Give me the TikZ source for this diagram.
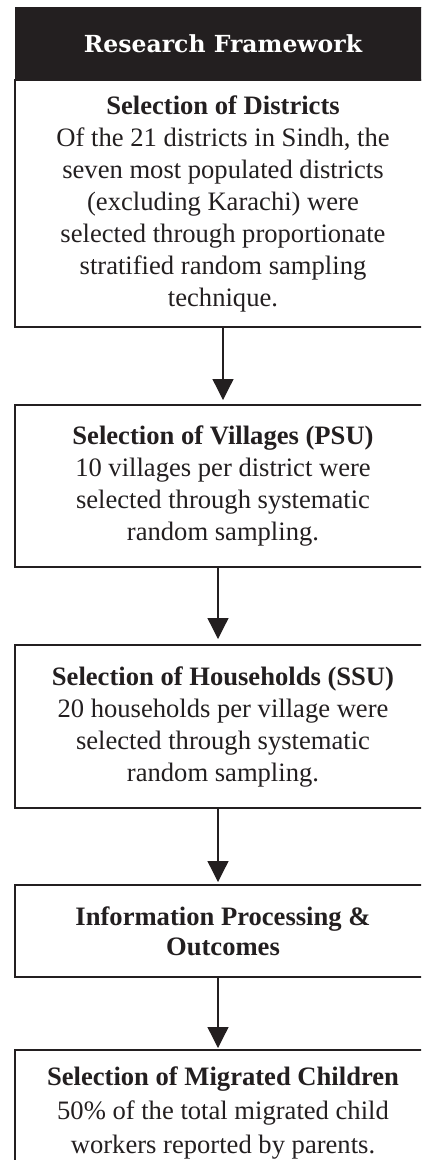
\documentclass[tikz,border=0pt]{standalone}
\usepackage{fontspec}
\newfontfamily\tnr{Liberation Serif}
\newfontfamily\hdrfont{DejaVu Serif}
\usetikzlibrary{arrows.meta}
\definecolor{ink}{HTML}{231F20}
\tikzset{
  box/.style={draw=ink, line width=2pt, minimum width=416pt, align=center, inner sep=0pt, text=ink},
  bodyfont/.style={font=\tnr\fontsize{26.6}{32}\selectfont},
  hdrbox/.style={draw=ink, fill=ink, line width=1pt, minimum width=416pt, minimum height=73pt, text=white, inner sep=0pt,
    font=\hdrfont\bfseries\fontsize{23.5}{28}\selectfont},
  flow/.style={draw=ink, line width=1.3pt, -{Triangle[width=21pt,length=21pt]}}
}
\begin{document}
\begin{tikzpicture}[x=1pt,y=1pt]
\useasboundingbox (0,0) rectangle (421,-1160);
\clip (0,0) rectangle (421,-1160);
\node[hdrbox] (hdr) at (223,-43.5) {Research Framework};
\node[box, bodyfont, minimum height=247pt] (b1) at (223,-203.5)
  {\textbf{Selection of Districts}\\
   Of the 21 districts in Sindh, the\\
   seven most populated districts\\
   (excluding Karachi) were\\
   selected through proportionate\\
   stratified random sampling\\
   technique.};
\node[box, bodyfont, minimum height=162pt] (b2) at (223,-486)
  {\textbf{Selection of Villages (PSU)}\\
   10 villages per district were\\
   selected through systematic\\
   random sampling.};
\node[box, bodyfont, minimum height=163pt] (b3) at (223,-726.5)
  {\textbf{Selection of Households (SSU)}\\
   20 households per village were\\
   selected through systematic\\
   random sampling.};
\node[box, font=\tnr\fontsize{26.6}{30}\selectfont, minimum height=92pt] (b4) at (223,-931)
  {\textbf{Information Processing \&}\\
   \textbf{Outcomes}};
\node[box, font=\tnr\fontsize{26.6}{34}\selectfont, minimum height=126pt] (b5) at (223,-1113)
  {\textbf{Selection of Migrated Children}\\
   50\% of the total migrated child\\
   workers reported by parents.};
\draw[flow, shorten >=4pt] (b1.south) -- (b2.north);
\draw[flow, shorten >=5pt] ([xshift=-5pt]b2.south) -- ([xshift=-5pt]b3.north);
\draw[flow, shorten >=2pt] ([xshift=-5pt]b3.south) -- ([xshift=-5pt]b4.north);
\draw[flow, shorten >=1pt] ([xshift=-5pt]b4.south) -- ([xshift=-5pt]b5.north);
\end{tikzpicture}
\end{document}
